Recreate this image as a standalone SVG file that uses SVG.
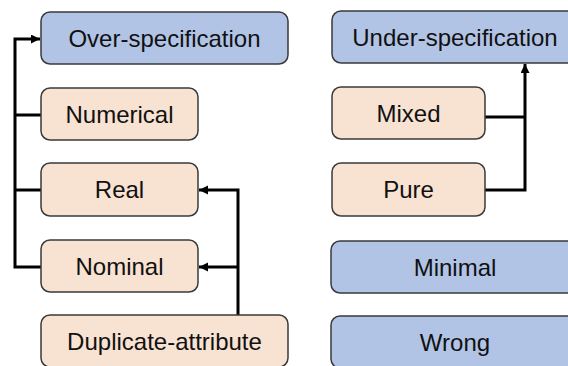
<svg xmlns="http://www.w3.org/2000/svg" width="568" height="366" viewBox="0 0 568 366">
<style>
.box{stroke:#3a3a3a;stroke-width:1.5}
.blue{fill:#B1C4E6}
.orange{fill:#F8E2D2}
text{font-family:"Liberation Sans",Arial,sans-serif;font-size:24px;fill:#111;text-anchor:middle}
.conn{fill:none;stroke:#000;stroke-width:3}
</style>
<defs>
<marker id="ah" markerWidth="10" markerHeight="10" refX="9" refY="4.5" orient="auto" markerUnits="userSpaceOnUse">
<path d="M0,0 L9,4.5 L0,9 Z" fill="#000"/>
</marker>
</defs>
<rect width="568" height="366" fill="#fff"/>
<g id="connectors">
<path class="conn" d="M41,115 H15 M41,190 H15 M41,267 H15 V39 H40" marker-end="url(#ah)"/>
<path class="conn" d="M238,315 V190 H199" marker-end="url(#ah)"/>
<path class="conn" d="M238,267 H199" marker-end="url(#ah)"/>
<path class="conn" d="M485,117 H525 M485,190 H525 V64" marker-end="url(#ah)"/>
</g>
<g id="over"><rect class="box blue" x="41" y="12" width="247" height="52" rx="9"/><text x="164.5" y="46.5">Over-specification</text></g>
<g id="numerical"><rect class="box orange" x="41" y="88" width="157" height="52" rx="9"/><text x="119.5" y="122.5">Numerical</text></g>
<g id="real"><rect class="box orange" x="41" y="163" width="157" height="53" rx="9"/><text x="119.5" y="198">Real</text></g>
<g id="nominal"><rect class="box orange" x="41" y="240" width="157" height="52" rx="9"/><text x="119.5" y="274.5">Nominal</text></g>
<g id="duplicate"><rect class="box orange" x="41" y="315" width="247" height="52" rx="9"/><text x="164.5" y="349.5">Duplicate-attribute</text></g>
<g id="under"><rect class="box blue" x="332" y="11" width="247" height="52" rx="9"/><text x="455" y="45.5">Under-specification</text></g>
<g id="mixed"><rect class="box orange" x="332" y="87" width="153" height="52" rx="9"/><text x="408.5" y="121.5">Mixed</text></g>
<g id="pure"><rect class="box orange" x="332" y="163" width="153" height="53" rx="9"/><text x="408.5" y="198">Pure</text></g>
<g id="minimal"><rect class="box blue" x="331" y="241" width="247" height="52" rx="9"/><text x="455" y="275.5">Minimal</text></g>
<g id="wrong"><rect class="box blue" x="331" y="316" width="247" height="52" rx="9"/><text x="455" y="350.5">Wrong</text></g>
</svg>
